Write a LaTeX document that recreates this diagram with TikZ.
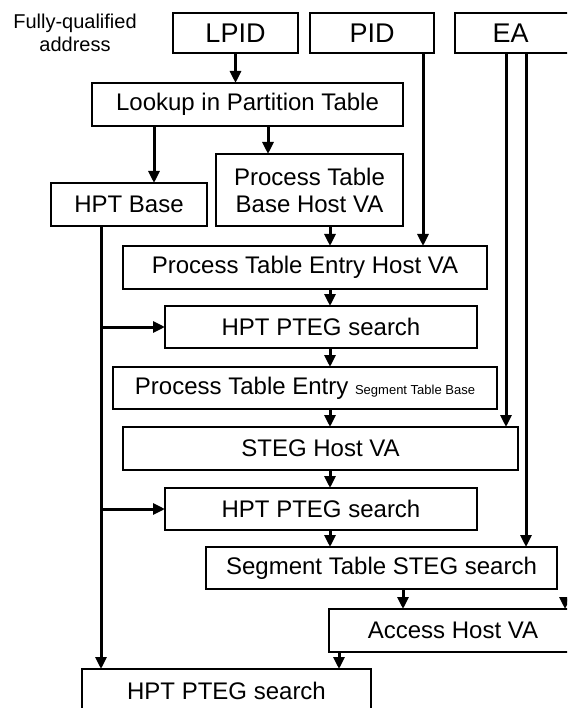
\documentclass[tikz,border=0pt]{standalone}
\usepackage{fontspec}
\setmainfont{Liberation Sans}
\usetikzlibrary{arrows.meta,positioning}

\begin{document}
\begin{tikzpicture}[
    x=1pt, y=-1pt,
    box/.style={
      draw, line width=2.2pt,
      anchor=north west,
      inner sep=0pt, outer sep=0pt,
      minimum height=43pt,
      font=\fontsize{24}{27}\selectfont
    },
    idbox/.style={box, minimum height=40pt, font=\fontsize{27}{30}\selectfont},
    link/.style={draw, line width=3pt, -{Triangle[length=12pt, width=11pt]}},
    note/.style={font=\fontsize{20}{23}\selectfont, align=center}
  ]

  \useasboundingbox (0,0) rectangle (567,708);
  \clip (0,0) rectangle (567,708);

  % Inputs
  \node[note] (fq) at (75,33) {Fully-qualified\\address};
  \node[idbox, minimum width=125pt] (lpid) at (173,13) {LPID};
  \node[idbox, minimum width=124pt] (pid) at (310,13) {PID};
  \node[idbox, minimum width=125pt] (ea) at (455,13) {\hspace*{-14pt}EA};

  % Partition lookup
  \node[box, minimum width=311pt] (lookup) at (92,83) {Lookup in Partition Table};
  \node[box, minimum width=156pt] (hptbase) at (51,183) {HPT Base};
  \node[box, minimum width=187pt, minimum height=72pt, align=center] (ptbase) at (216,154) {Process Table\\Base Host VA};

  % Walk
  \node[box, minimum width=364pt] (ptentry) at (123,246) {Process Table Entry Host VA};
  \node[box, minimum width=312pt, minimum height=42pt] (pteg1) at (165,306) {HPT PTEG search};
  \node[box, minimum width=384pt, minimum height=42pt] (ptestb) at (113,367) {Process Table Entry {\fontsize{13}{15}\selectfont Segment Table Base}};
  \node[box, minimum width=395pt] (steg) at (123,427) {STEG Host VA};
  \node[box, minimum width=312pt, minimum height=42pt] (pteg2) at (165,488) {HPT PTEG search};
  \node[box, minimum width=351pt, minimum height=42pt] (stegsearch) at (206,547) {Segment Table STEG search};
  \node[box, minimum width=248pt] (access) at (329,609) {Access Host VA};
  \node[box, minimum width=289pt] (pteg3) at (82,669) {HPT PTEG search};

  \coordinate (rail) at (101,0);
  \coordinate (spine) at (330,0);
  \coordinate (ea1) at (506,0);
  \coordinate (ea2) at (526,0);
  \coordinate (off) at (565,597);

  % Connectors
  \draw[link] (lpid.south) -- (lpid.south |- lookup.north);
  \draw[link] ([xshift=25pt]hptbase.north |- lookup.south) -- ([xshift=25pt]hptbase.north);
  \draw[link] ([xshift=52pt]ptbase.north west |- lookup.south) -- ([xshift=52pt]ptbase.north west);
  \draw[link] ([xshift=51pt]pid.south) -- ([xshift=51pt]pid.south |- ptentry.north);
  \draw[link] (ptbase.south -| spine) -- (ptentry.north -| spine);
  \foreach \a/\b in {ptentry/pteg1, pteg1/ptestb, ptestb/steg, steg/pteg2, pteg2/stegsearch}
    \draw[link] (\a.south -| spine) -- (\b.north -| spine);

  % HPT base rail
  \draw[link] (hptbase.south -| rail) -- (pteg3.north -| rail);
  \draw[link] (pteg1.west -| rail) -- (pteg1.west);
  \draw[link] (pteg2.west -| rail) -- (pteg2.west);

  % EA
  \draw[link] (ea.south -| ea1) -- (steg.north -| ea1);
  \draw[link] (ea.south -| ea2) -- (stegsearch.north -| ea2);

  \draw[link] ([xshift=74pt]access.north west |- stegsearch.south) -- ([xshift=74pt]access.north west);
  \draw[link] (off) -- (access.north -| off);
  \draw[link] ([xshift=10pt]access.south west) -- ([xshift=10pt]access.south west |- pteg3.north);

\end{tikzpicture}
\end{document}
